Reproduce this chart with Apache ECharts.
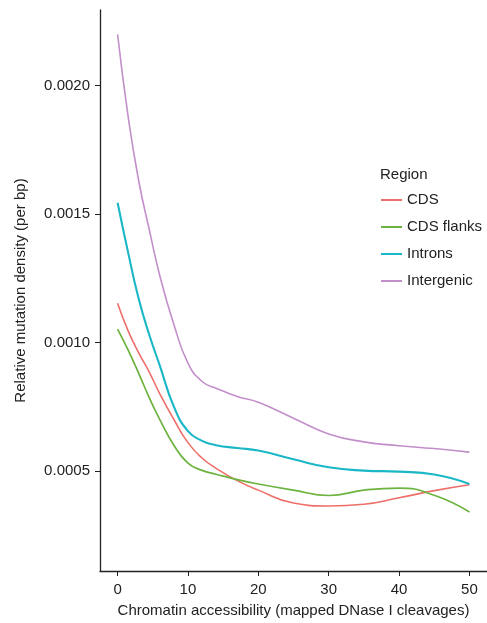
<!DOCTYPE html>
<html>
<head>
<meta charset="utf-8">
<script src="https://cdn.jsdelivr.net/npm/echarts@6/dist/echarts.min.js"></script>
<style>
html,body{margin:0;padding:0;background:#fff;}
#chart{width:487px;height:623px;}
</style>
</head>
<body>
<div id="chart"></div>
<script>
// Data
const xValues = [0,1.5,3,4.5,6,8,10,12,14,17,20,25,30,35,40,45,50];
const cds =        [0.001153,0.001045,0.00096,0.000885,0.0008,0.0007,0.00061,0.00055,0.00051,0.000462,0.000425,0.000375,0.000363,0.00037,0.000395,0.000423,0.000446];
const cdsFlanks =  [0.001052,0.00097,0.00088,0.000785,0.0007,0.0006,0.00053,0.000502,0.000487,0.000466,0.000449,0.000425,0.000404,0.000425,0.000433,0.000405,0.00034];
const introns =    [0.001544,0.00135,0.00117,0.00103,0.00091,0.00075,0.000655,0.000617,0.0006,0.000589,0.000579,0.000545,0.000514,0.000501,0.000497,0.000486,0.000449];
const intergenic = [0.0022,0.00188,0.00163,0.00144,0.00126,0.00107,0.00092,0.000848,0.000822,0.00079,0.000767,0.000705,0.000644,0.000613,0.000598,0.000587,0.000573];
const seriesNames = ['CDS','CDS flanks','Introns','Intergenic'];
const seriesData = [cds, cdsFlanks, introns, intergenic];
const colors = ['#EE6F6A','#6DB33F','#1AB7C7','#C38FCB'];
const lineWidths = [1.6, 1.7, 2.1, 1.6];
const xTicks = [0,10,20,30,40,50];
const yTicks = [0.0005,0.0010,0.0015,0.0020];

const font = 'Liberation Sans, Arial, Helvetica, sans-serif';
const chart = echarts.init(document.getElementById('chart'));
chart.setOption({
  animation: false,
  backgroundColor: '#fff',
  title: {
    text: 'Region',
    left: 375,
    top: 162,
    textStyle: {fontFamily: font, fontSize: 15, fontWeight: 'normal', color: '#222'}
  },
  legend: {
    orient: 'vertical',
    left: 376,
    top: 187,
    itemWidth: 21,
    itemHeight: 2,
    itemGap: 11,
    icon: 'rect',
    data: seriesNames,
    textStyle: {fontFamily: font, fontSize: 15, color: '#222', lineHeight: 16}
  },
  grid: {left: 100, top: 10, width: 389, height: 563, containLabel: false},
  xAxis: {
    type: 'value',
    min: -2.5,
    max: 52.5,
    name: 'Chromatin accessibility (mapped DNase I cleavages)',
    nameLocation: 'middle',
    nameGap: 32,
    nameTextStyle: {fontFamily: font, fontSize: 15, color: '#222'},
    axisLine: {show: true, onZero: false, lineStyle: {color: '#222', width: 1.3}},
    axisTick: {show: true, length: 5, lineStyle: {color: '#222'}, customValues: xTicks},
    axisLabel: {fontFamily: font, fontSize: 15, color: '#222', margin: 11, customValues: xTicks},
    splitLine: {show: false}
  },
  yAxis: {
    type: 'value',
    min: 0.00011,
    max: 0.002295,
    name: 'Relative mutation density (per bp)',
    nameLocation: 'middle',
    nameGap: 72,
    nameTextStyle: {fontFamily: font, fontSize: 15, color: '#222'},
    axisLine: {show: true, onZero: false, lineStyle: {color: '#222', width: 1.3}},
    axisTick: {show: true, length: 5, lineStyle: {color: '#222'}, customValues: yTicks},
    axisLabel: {fontFamily: font, fontSize: 15, color: '#222', margin: 10, customValues: yTicks,
      formatter: v => v.toFixed(4)},
    splitLine: {show: false}
  },
  series: seriesNames.map((n, i) => ({
    name: n,
    type: 'line',
    smooth: 0.5,
    showSymbol: false,
    symbol: 'none',
    color: colors[i],
    lineStyle: {width: lineWidths[i], color: colors[i]},
    data: xValues.map((x, j) => [x, seriesData[i][j]])
  }))
});
</script>
</body>
</html>
